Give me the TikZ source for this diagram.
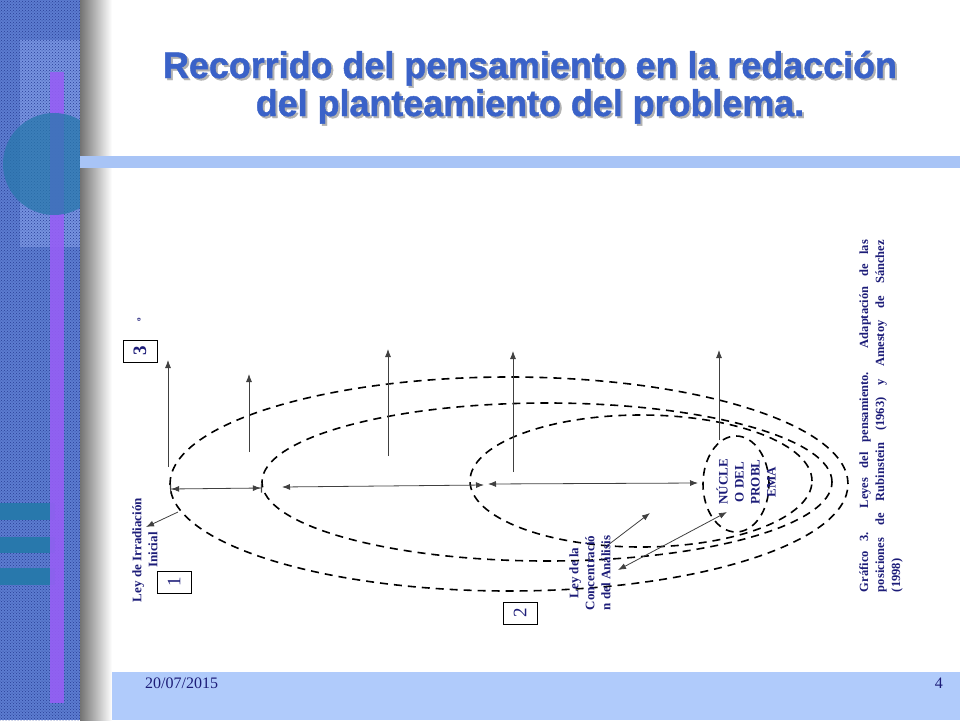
\documentclass[tikz,border=0pt]{standalone}
\usepackage{fontspec}
\setmainfont{Liberation Serif}
\newfontfamily\titlefont[FakeStretch=0.97,FakeBold=1.2]{Liberation Sans}
\usetikzlibrary{arrows.meta,shapes.geometric,patterns}

\definecolor{sidebar}{RGB}{92,124,208}
\definecolor{sidelight}{RGB}{118,146,224}
\definecolor{sidedots}{RGB}{40,62,150}
\definecolor{stripe}{RGB}{168,196,246}
\definecolor{footer}{RGB}{176,203,251}
\definecolor{purplebar}{RGB}{150,95,245}
\definecolor{tealdisc}{RGB}{40,120,172}
\definecolor{titleblue}{RGB}{58,98,200}
\definecolor{navy}{RGB}{28,28,120}

% title line with its shadow
\newcommand{\tituloconsombra}[1]{\makebox[0pt][l]{\hspace{2pt}\raisebox{-2pt}{\textcolor{black!30}{#1}}}#1}

\tikzset{
  ley/.style={ellipse, draw, line width=1.6pt, dash pattern=on 8pt off 6pt, inner sep=0pt},
  flecha/.style={draw=black!75, line width=0.8pt, -{Latex[length=8pt,width=6pt]}},
  doble/.style={draw=black!75, line width=0.8pt, {Latex[length=8pt,width=6pt]}-{Latex[length=8pt,width=6pt]}},
  cota/.style={draw=black!75, line width=0.8pt, {Bar[width=9pt,line width=1.2pt]Latex[length=8pt,width=6pt]}-{Latex[length=8pt,width=6pt]Bar[width=9pt,line width=1.2pt]}},
  rotulo/.style={rotate=90, text=navy, font=\bfseries\fontsize{13}{16}\selectfont, align=center, inner sep=0pt},
  caja/.style={draw, line width=0.8pt, minimum width=34pt, minimum height=22pt, inner sep=0pt, text=navy, font=\fontsize{19}{19}\selectfont},
  titulo/.style={text=titleblue, font=\titlefont\bfseries\fontsize{37}{37}\selectfont, anchor=base, inner sep=0pt}
}

\begin{document}
\begin{tikzpicture}[x=1pt, y=-1pt]
    \useasboundingbox (0,0) rectangle (960,720);

    % Side band
    \fill[sidebar] (0,0) rectangle (80,720);
    \fill[sidelight] (20,40) rectangle (80,247);
    \fill[pattern=crosshatch dots, pattern color=sidedots] (0,0) rectangle (80,720);
    \fill[tealdisc] (0,503) rectangle (55,520);
    \fill[tealdisc] (0,537) rectangle (55,553);
    \fill[tealdisc] (0,568) rectangle (55,585);
    \fill[purplebar, opacity=0.9] (50,72) rectangle (64,703);
    \begin{scope}
        \clip (0,0) rectangle (80,720);
        \fill[tealdisc, opacity=0.75] (54,164) circle (51pt);
    \end{scope}
    \shade[left color=black!55, right color=white] (80,0) rectangle (112,720);

    % Stripe and footer
    \fill[stripe] (80,156) rectangle (960,168);
    \fill[footer] (112,672) rectangle (960,720);
    \node[anchor=base west, text=navy, font=\fontsize{16}{16}\selectfont, inner sep=0pt] (fecha) at (145,688) {20/07/2015};
    \node[anchor=base east, text=navy, font=\fontsize{16}{16}\selectfont, inner sep=0pt] (pagina) at (943,688) {4};

    % Title
    \node[titulo] (titulo1) at (530,78) {\tituloconsombra{Recorrido del pensamiento en la redacción}};
    \node[titulo] (titulo2) at (530,116) {\tituloconsombra{del planteamiento del problema.}};

    % Ellipses
    \node[ley, minimum width=678pt, minimum height=214pt] (ley1) at (509,484) {};
    \node[ley, minimum width=570pt, minimum height=158pt] (ley2) at (547,482) {};
    \node[ley, minimum width=342pt, minimum height=132pt] (ley3) at (641,481) {};
    \node[ley, minimum width=66pt, minimum height=96pt] (nucleo) at (736,484) {};

    % Arrow end points
    \coordinate (v1a) at (168,467);  \coordinate (v1b) at (168,360);
    \coordinate (v2a) at (249,452);  \coordinate (v2b) at (249,374);
    \coordinate (v3a) at (388,456);  \coordinate (v3b) at (388,349);
    \coordinate (v4a) at (513,472);  \coordinate (v4b) at (513,351);
    \coordinate (v5a) at (719,440);  \coordinate (v5b) at (719,350);
    \coordinate (h1a) at (170,489);  \coordinate (h1b) at (262,488);
    \coordinate (h2a) at (282,487);  \coordinate (h2b) at (484,485);
    \coordinate (h3a) at (488,484);  \coordinate (h3b) at (698,483);
    \coordinate (d1a) at (178,512);  \coordinate (d1b) at (146,527);
    \coordinate (d2a) at (608,545);  \coordinate (d2b) at (650,513);
    \coordinate (d3a) at (618,570);  \coordinate (d3b) at (727,512);

    % Upward arrows
    \draw[flecha] (v1a) -- (v1b);
    \draw[flecha] (v2a) -- (v2b);
    \draw[flecha] (v3a) -- (v3b);
    \draw[flecha] (v4a) -- (v4b);
    \draw[flecha] (v5a) -- (v5b);

    % Horizontal arrows
    \draw[cota] (h1a) -- (h1b);
    \draw[doble] (h2a) -- (h2b);
    \draw[doble] (h3a) -- (h3b);

    % Slanted arrows
    \draw[flecha] (d1a) -- (d1b);
    \draw[flecha] (d2a) -- (d2b);
    \draw[doble] (d3a) -- (d3b);

    % Labels
    \node[rotulo] (irradiacion) at (145,550) {Ley de Irradiación\\Inicial};
    \node[rotulo] (concentracion) at (590,573) {Ley de la\\Concentració\\n del Análisis};
    \node[rotulo] (nucleotxt) at (746,482) {NÚCLE\\O DEL\\PROBL\\EMA};
    \node[rotulo, font=\bfseries\fontsize{7}{7}\selectfont] (orden) at (139,320) {o};

    % Boxes
    \node[caja] (caja1) at (174,582) {\rotatebox{90}{1}};
    \node[caja] (caja2) at (520,613) {\rotatebox{90}{2}};
    \node[caja, font=\bfseries\fontsize{19}{19}\selectfont] (caja3) at (140,351) {\rotatebox{90}{3}};

    % Caption
    \node[rotulo, align=left, font=\bfseries\fontsize{12.5}{16}\selectfont] (grafico) at (881,416)
        {\makebox[352pt][s]{Gráfico 3. Leyes del pensamiento. Adaptación de las}\\
         \makebox[352pt][s]{posiciones de Rubinstein (1963) y Amestoy de Sánchez}\\
         (1998)};
\end{tikzpicture}
\end{document}
